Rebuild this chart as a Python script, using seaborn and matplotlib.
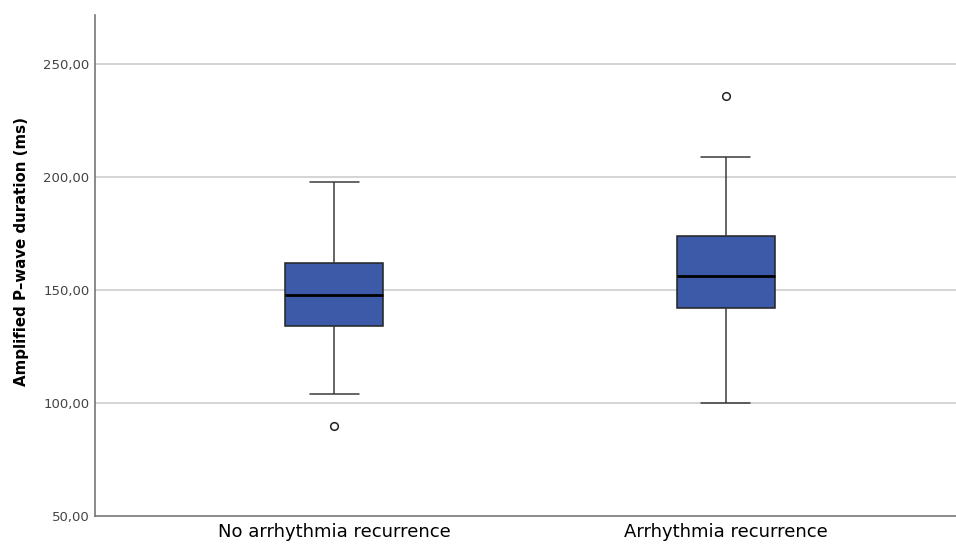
import pandas as pd
import matplotlib
matplotlib.use("Agg")
import matplotlib.pyplot as plt
import seaborn as sns

# ==========================================
# DATA
# ==========================================
GROUPS = ["No arrhythmia recurrence", "Arrhythmia recurrence"]
# nine sorted observations per group so that q1 / median / q3 land on idx 2 / 4 / 6
NO_RECURRENCE = [90, 104, 134, 148, 148, 148, 162, 198, 198]
RECURRENCE = [100, 100, 142, 156, 156, 156, 174, 209, 236]

Y_LABEL = "Amplified P\u2013wave duration (ms)"
Y_TICKS = [50, 100, 150, 200, 250]

BOX_COLOR = "#3D5AA8"

# ==========================================
# PLOT
# ==========================================
df = pd.DataFrame({
    "group": [GROUPS[0]] * len(NO_RECURRENCE) + [GROUPS[1]] * len(RECURRENCE),
    "duration": NO_RECURRENCE + RECURRENCE,
})

sns.set_theme(style="white")
plt.rcParams["font.family"] = ["DejaVu Sans"]

fig = plt.figure(figsize=(9.56, 5.44), dpi=100)
ax = fig.add_axes([0.0994, 0.0515, 0.9006, 0.921])

# gridlines first so boxes sit on top
for t in Y_TICKS[1:]:
    ax.axhline(t, color="#c9c9c9", lw=1.1, zorder=0)

sns.boxplot(
    data=df, x="group", y="duration", order=GROUPS,
    color=BOX_COLOR, saturation=1, width=0.25, whis=1.5,
    linecolor="#3a3a3a", linewidth=1.1, fliersize=5.5,
    medianprops=dict(color="black", linewidth=2),
    boxprops=dict(edgecolor="#222222"),
    flierprops=dict(marker="o", markerfacecolor="white",
                    markeredgecolor="#222222", markeredgewidth=1.1),
    ax=ax,
)

ax.set_xlim(-0.61, 1.587)
ax.set_ylim(50, 271.7)
ax.set_yticks(Y_TICKS)
ax.set_yticklabels([f"{t:.2f}".replace(".", ",") for t in Y_TICKS],
                   fontsize=9.5, color="#444444")
ax.tick_params(axis="x", labelsize=13, colors="black", length=0, pad=5)
ax.tick_params(axis="y", length=0, pad=4)
ax.set_xlabel("")
ax.set_ylabel(Y_LABEL, fontsize=10.8, fontweight="bold", color="black")
ax.yaxis.set_label_coords(-0.077, 0.527)

sns.despine(ax=ax, top=True, right=True)
for side in ["left", "bottom"]:
    ax.spines[side].set_color("#777777")
    ax.spines[side].set_linewidth(1.2)

fig.savefig("out.png", dpi=100)
